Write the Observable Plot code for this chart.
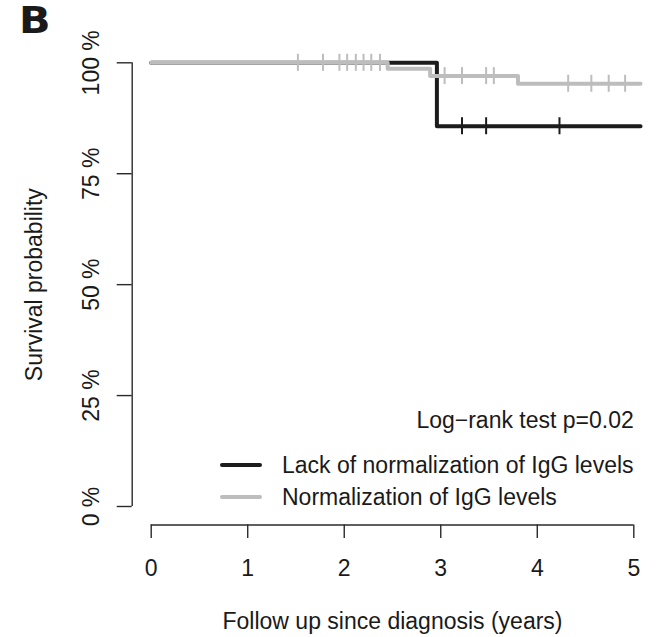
<!DOCTYPE html>
<html>
<head>
<meta charset="utf-8">
<script src="https://cdn.jsdelivr.net/npm/d3@7"></script>
<script src="https://cdn.jsdelivr.net/npm/@observablehq/plot@0.6"></script>
<style>
  html, body { margin: 0; padding: 0; background: #fff; }
  #wrap { position: relative; width: 660px; height: 637px; font-family: "Liberation Sans", Arial, Helvetica, sans-serif; color: #1a1a1a; }
  #panel { position: absolute; left: 19px; top: 2px; line-height: 1; font-family: "DejaVu Sans", sans-serif; font-weight: bold; font-size: 37px; transform-origin: left top; transform: scaleX(1.12); color: #1a1a1a; }
  #legend { position: absolute; left: 220px; top: 449px; font-size: 23px; }
  .row { display: flex; align-items: center; height: 32px; }
  .sw { width: 42px; height: 4px; margin-right: 20px; border-radius: 2px; }
</style>
</head>
<body>
<div id="wrap">
  <div id="chart"></div>
  <div id="panel">B</div>
  <div id="legend"></div>
</div>
<script>
// ---- data ----
const groupNames = ["Lack of normalization of IgG levels", "Normalization of IgG levels"];
const groupColors = ["#1c1c1c", "#bdbdbd"];

// Kaplan–Meier step points (time in years, survival probability)
const lackTimes = [0, 2.96, 5.07];
const lackSurv  = [1, 0.857, 0.857];
const normTimes = [0, 2.45, 2.89, 3.80, 5.07];
const normSurv  = [1, 0.9865, 0.970, 0.9527, 0.9527];

// censoring times
const lackCensor = [3.22, 3.47, 4.23];
const normCensor = [1.52, 1.78, 1.95, 2.03, 2.12, 2.20, 2.28, 2.37, 3.04, 3.22, 3.47, 3.55, 4.32, 4.56, 4.74, 4.91];

const xTicks = [0, 1, 2, 3, 4, 5];
const yTicks = [0, 0.25, 0.5, 0.75, 1];
const yTickLabels = ["0 %", "25 %", "50 %", "75 %", "100 %"];

const xTitle = "Follow up since diagnosis (years)";
const yTitle = "Survival probability";
const testLabel = "Log\u2212rank test p=0.02";

// ---- build tables ----
const toSteps = (times, surv) => times.map((t, i) => ({t, s: surv[i]}));
const survAt = (times, surv, t) => { let s = surv[0]; times.forEach((tt, i) => { if (tt <= t) s = surv[i]; }); return s; };
const lackLine = toSteps(lackTimes, lackSurv);
const normLine = toSteps(normTimes, normSurv);
const lackCens = lackCensor.map(t => ({t, s: survAt(lackTimes, lackSurv, t)}));
const normCens = normCensor.map(t => ({t, s: survAt(normTimes, normSurv, t)}));

const axisColor = "#2a2a2a";
const fs = 23;

const chart = Plot.plot({
  width: 660,
  height: 637,
  marginLeft: 150.7,
  marginRight: 26.7,
  marginTop: 62.3,
  marginBottom: 131,
  x: {domain: [0, 5]},
  y: {domain: [0, 1]},
  style: {fontFamily: "'Liberation Sans', Arial, Helvetica, sans-serif", fontSize: fs + "px", color: "#1a1a1a", background: "white", overflow: "visible"},
  marks: [
    // axis lines (offset from the data region, R style)
    Plot.ruleY([0], {dy: 18.5, stroke: axisColor, strokeWidth: 1.4}),
    Plot.ruleX([0], {y1: 0, y2: 1, dx: -19, stroke: axisColor, strokeWidth: 1.4}),
    Plot.axisX(xTicks, {anchor: "bottom", tickSize: 13.5, tickPadding: 21.5, dy: 18.5, label: null,
      tickFormat: d => String(d), fontSize: fs, stroke: axisColor, strokeWidth: 1.4}),
    Plot.axisY(yTicks, {anchor: "left", tickSize: 15, tickPadding: 25.8, dx: -19, label: null,
      tickRotate: -90, textAnchor: "middle", lineAnchor: "middle",
      tickFormat: d => yTickLabels[yTicks.indexOf(d)], fontSize: fs, stroke: axisColor, strokeWidth: 1.4}),
    // titles
    Plot.text([yTitle], {frameAnchor: "left", rotate: -90, dx: -116.4, lineAnchor: "middle", textAnchor: "middle", fontSize: fs}),
    Plot.text([xTitle], {frameAnchor: "bottom", dy: 115, lineAnchor: "middle", textAnchor: "middle", fontSize: fs}),
    Plot.text([testLabel], {frameAnchor: "bottom-right", dy: -86, lineAnchor: "middle", textAnchor: "end", fontSize: fs}),
    // survival curves
    Plot.line(lackLine, {x: "t", y: "s", curve: "step-after", stroke: groupColors[0], strokeWidth: 4, strokeLinecap: "round", strokeLinejoin: "round"}),
    Plot.ruleX(lackCens, {x: "t", y1: "s", y2: "s", insetTop: -8.5, insetBottom: -8.5, stroke: groupColors[0], strokeWidth: 2}),
    Plot.line(normLine, {x: "t", y: "s", curve: "step-after", stroke: groupColors[1], strokeWidth: 4, strokeLinecap: "round", strokeLinejoin: "round"}),
    Plot.ruleX(normCens, {x: "t", y1: "s", y2: "s", insetTop: -8.5, insetBottom: -8.5, stroke: groupColors[1], strokeWidth: 2})
  ]
});
document.getElementById("chart").appendChild(chart);

// legend
const legend = document.getElementById("legend");
groupNames.forEach((name, i) => {
  const row = document.createElement("div");
  row.className = "row";
  const sw = document.createElement("span");
  sw.className = "sw";
  sw.style.background = groupColors[i];
  const tx = document.createElement("span");
  tx.textContent = name;
  row.appendChild(sw);
  row.appendChild(tx);
  legend.appendChild(row);
});
</script>
</body>
</html>
